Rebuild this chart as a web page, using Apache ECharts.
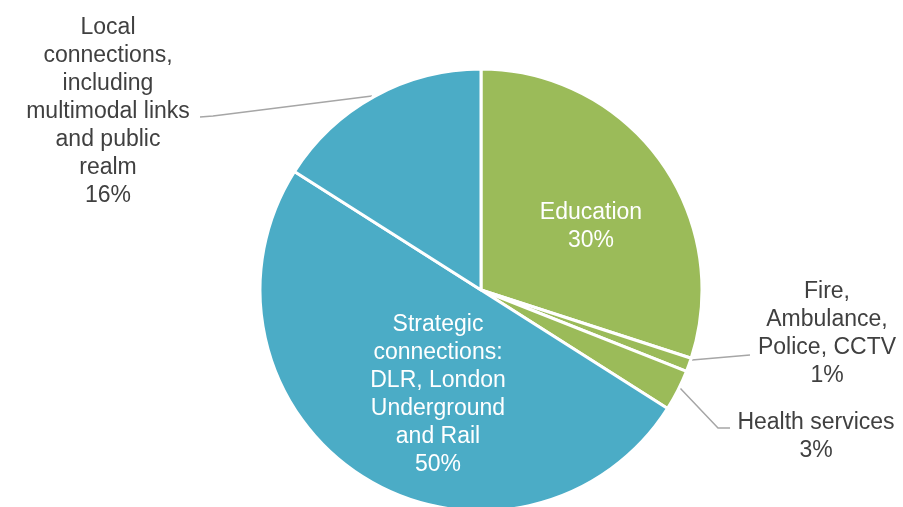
<!DOCTYPE html>
<html>
<head>
<meta charset="utf-8">
<style>
  html, body { margin: 0; padding: 0; background: #fff; }
  #chart { width: 903px; height: 507px; }
</style>
<script src="https://cdn.jsdelivr.net/npm/echarts@6/dist/echarts.min.js"></script>
</head>
<body>
<div id="chart"></div>
<script>
// data (clockwise from 12 o'clock)
const categories = [
  "Education",
  "Fire,\nAmbulance,\nPolice, CCTV",
  "Health services",
  "Strategic\nconnections:\nDLR, London\nUnderground\nand Rail",
  "Local\nconnections,\nincluding\nmultimodal links\nand public\nrealm"
];
const shares = [30, 1, 3, 50, 16];

const GREEN = "#9BBB59";
const BLUE = "#4BACC6";
const sliceColors = [GREEN, GREEN, GREEN, BLUE, BLUE];
const insideLabel = [true, false, false, true, false];

// label centres and leader lines (layout only)
const labelPos = [
  { x: 591, y: 227 },
  { x: 827, y: 334, line: [[692, 360], [750, 355]] },
  { x: 816, y: 437, line: [[680, 388], [718, 428], [730, 428]] },
  { x: 438, y: 395 },
  { x: 108, y: 112, line: [[372, 96], [213, 116], [200, 117]] }
];

const chart = echarts.init(document.getElementById("chart"));

chart.setOption({
  animation: false,
  series: [
    {
      type: "pie",
      center: [481, 290],
      radius: [0, 221],
      startAngle: 90,
      clockwise: true,
      avoidLabelOverlap: false,
      itemStyle: { borderColor: "#fff", borderWidth: 3 },
      label: {
        formatter: "{b}\n{c}%",
        fontFamily: "Liberation Sans, Arial, sans-serif",
        fontSize: 23,
        lineHeight: 28,
        align: "center"
      },
      labelLine: {
        lineStyle: { color: "#A6A6A6", width: 1.5 }
      },
      labelLayout: function (params) {
        const p = labelPos[params.dataIndex];
        const out = { x: p.x, y: p.y, align: "center", verticalAlign: "middle" };
        if (p.line) out.labelLinePoints = p.line;
        return out;
      },
      data: categories.map(function (name, i) {
        return {
          name: name,
          value: shares[i],
          itemStyle: { color: sliceColors[i] },
          label: insideLabel[i]
            ? { position: "inside", color: "#fff" }
            : { position: "outside", color: "#404040" },
          labelLine: { show: !insideLabel[i] }
        };
      })
    }
  ]
});
</script>
</body>
</html>
